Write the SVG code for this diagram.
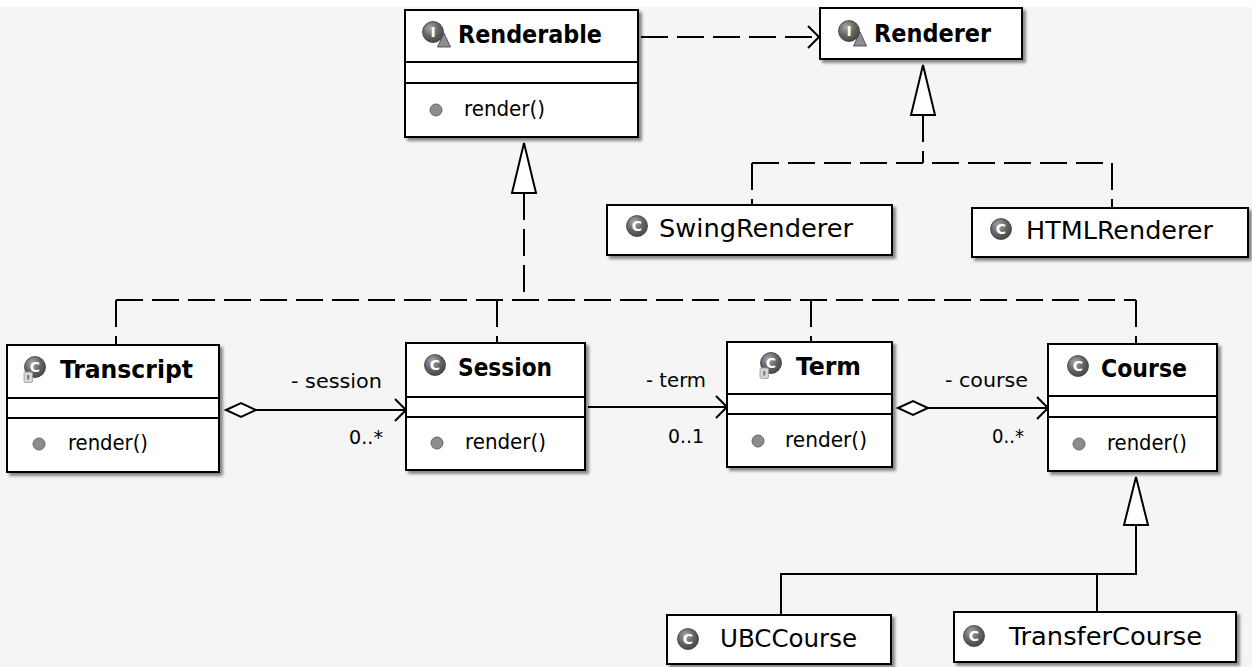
<svg xmlns="http://www.w3.org/2000/svg" width="1252" height="667" viewBox="0 0 1252 667">
<style>
.box{fill:#fff;stroke:#000;stroke-width:2;filter:url(#sh)}
.div{stroke:#000;stroke-width:1.8}
.t{font-family:"DejaVu Sans Condensed","DejaVu Sans",sans-serif;font-stretch:condensed;font-weight:bold;font-size:24px;fill:#000}
.n{font-family:"DejaVu Sans Condensed","DejaVu Sans",sans-serif;font-stretch:condensed;font-size:24px;fill:#000}
.m{font-family:"DejaVu Sans Condensed","DejaVu Sans",sans-serif;font-stretch:condensed;font-size:21px;fill:#000}
.l{font-family:"DejaVu Sans","Liberation Sans",sans-serif;font-size:20px;fill:#000}
.ic{font-family:"DejaVu Sans",sans-serif;font-weight:bold;font-size:14px;fill:#fff;text-anchor:middle}
.bul{fill:#8c8c8c;stroke:#666;stroke-width:1}
.dash{fill:none;stroke:#000;stroke-width:2;stroke-dasharray:27 9}
.sol{fill:none;stroke:#000;stroke-width:2}
.tri{fill:#fff;stroke:#000;stroke-width:2;stroke-linejoin:miter}
.dia{fill:#fff;stroke:#000;stroke-width:2}
</style>
<defs>
<filter id="sh" x="-5%" y="-5%" width="115%" height="125%">
<feDropShadow dx="3" dy="3" stdDeviation="1.5" flood-color="#000" flood-opacity="0.45"/>
</filter>
<radialGradient id="gC" cx="38%" cy="32%" r="70%">
<stop offset="0" stop-color="#a8a8a8"/>
<stop offset="0.55" stop-color="#666"/>
<stop offset="1" stop-color="#474747"/>
</radialGradient>
<g id="icC"><circle r="10.5" fill="url(#gC)" stroke="#3c3c3c" stroke-width="0.8"/><text class="ic" y="5">C</text></g>
<g id="icI"><circle r="10.5" fill="url(#gC)" stroke="#3c3c3c" stroke-width="0.8"/><text class="ic" y="5">I</text><polygon points="11,1 4.5,15 17.5,15" fill="#8e8e8e" stroke="#3c3c3c" stroke-width="0.8"/></g>
<g id="bd"><rect x="-11" y="5" width="8.5" height="10.5" rx="1.5" fill="#d6d6d6" stroke="#9a9a9a" stroke-width="0.8"/><rect x="-7.8" y="8" width="2" height="4.5" fill="#777"/></g>
</defs>
<rect width="1252" height="667" fill="#fff"/>
<rect y="7" width="1252" height="660" fill="#f5f5f5"/>

<g id="connectors">
<path class="dash" d="M641,37 H818"/>
<polyline class="sol" points="808,26 819,37 808,48"/>
<polygon class="tri" points="923,65 911,115 935,115"/>
<path class="dash" d="M923,115 V163"/>
<path class="dash" d="M752,163 H1112"/>
<path class="dash" d="M752,163 V205"/>
<path class="dash" d="M1112,163 V208"/>
<polygon class="tri" points="524,143 512,193 536,193"/>
<path class="dash" d="M524,193 V300"/>
<path class="dash" d="M116,300 H1136"/>
<path class="dash" d="M116,300 V345"/>
<path class="dash" d="M497,300 V343"/>
<path class="dash" d="M811,300 V342"/>
<path class="dash" d="M1136,300 V344"/>
<polygon class="dia" points="226,410 241,403 256,410 241,417"/>
<path class="sol" d="M256,410 H406"/>
<polyline class="sol" points="395,399 406,410 395,421"/>
<path class="sol" d="M588,407 H727"/>
<polyline class="sol" points="716,396 727,407 716,418"/>
<polygon class="dia" points="898,408 913,401 928,408 913,415"/>
<path class="sol" d="M928,408 H1048"/>
<polyline class="sol" points="1037,397 1048,408 1037,419"/>
<polygon class="tri" points="1136,477 1124,525 1148,525"/>
<path class="sol" d="M1136,525 V574 H781 V615"/>
<path class="sol" d="M1097,574 V612"/>
<text class="l" x="291" y="388" textLength="91" lengthAdjust="spacingAndGlyphs">- session</text>
<text class="l" x="349" y="444" textLength="34" lengthAdjust="spacingAndGlyphs">0..*</text>
<text class="l" x="646" y="387" textLength="60" lengthAdjust="spacingAndGlyphs">- term</text>
<text class="l" x="668" y="443" textLength="36" lengthAdjust="spacingAndGlyphs">0..1</text>
<text class="l" x="945" y="387" textLength="83" lengthAdjust="spacingAndGlyphs">- course</text>
<text class="l" x="992" y="443" textLength="32" lengthAdjust="spacingAndGlyphs">0..*</text>
</g>

<g id="Renderable">
<rect class="box" x="405" y="10" width="233" height="127"/>
<line class="div" x1="405" y1="62" x2="638" y2="62"/>
<line class="div" x1="405" y1="83" x2="638" y2="83"/>
<use href="#icI" x="433" y="32"/>
<text class="t" x="458" y="43" textLength="144" lengthAdjust="spacingAndGlyphs">Renderable</text>
<circle class="bul" cx="436" cy="110" r="6"/>
<text class="m" x="464" y="116" textLength="81" lengthAdjust="spacingAndGlyphs">render()</text>
</g>

<g id="Renderer">
<rect class="box" x="820" y="8" width="202" height="51"/>
<use href="#icI" x="849" y="31"/>
<text class="t" x="874" y="42" textLength="117" lengthAdjust="spacingAndGlyphs">Renderer</text>
</g>

<g id="SwingRenderer">
<rect class="box" x="607" y="205" width="285" height="50"/>
<use href="#icC" x="637" y="226"/>
<text class="n" x="659" y="237" textLength="194" lengthAdjust="spacingAndGlyphs">SwingRenderer</text>
</g>

<g id="HTMLRenderer">
<rect class="box" x="972" y="208" width="276" height="49"/>
<use href="#icC" x="1001" y="229"/>
<text class="n" x="1026" y="239" textLength="187" lengthAdjust="spacingAndGlyphs">HTMLRenderer</text>
</g>

<g id="Transcript">
<rect class="box" x="7" y="345" width="212" height="127"/>
<line class="div" x1="7" y1="398" x2="219" y2="398"/>
<line class="div" x1="7" y1="418" x2="219" y2="418"/>
<use href="#icC" x="35" y="367"/>
<use href="#bd" x="35" y="367"/>
<text class="t" x="60" y="378" textLength="133" lengthAdjust="spacingAndGlyphs">Transcript</text>
<circle class="bul" cx="39" cy="444" r="6"/>
<text class="m" x="68" y="450" textLength="80" lengthAdjust="spacingAndGlyphs">render()</text>
</g>

<g id="Session">
<rect class="box" x="406" y="343" width="179" height="127"/>
<line class="div" x1="406" y1="397" x2="585" y2="397"/>
<line class="div" x1="406" y1="417" x2="585" y2="417"/>
<use href="#icC" x="435" y="365"/>
<text class="t" x="458" y="376" textLength="94" lengthAdjust="spacingAndGlyphs">Session</text>
<circle class="bul" cx="437" cy="443" r="6"/>
<text class="m" x="465" y="449" textLength="81" lengthAdjust="spacingAndGlyphs">render()</text>
</g>

<g id="Term">
<rect class="box" x="727" y="342" width="165" height="125"/>
<line class="div" x1="727" y1="394" x2="892" y2="394"/>
<line class="div" x1="727" y1="414" x2="892" y2="414"/>
<use href="#icC" x="771" y="363"/>
<use href="#bd" x="771" y="363"/>
<text class="t" x="796" y="375" textLength="65" lengthAdjust="spacingAndGlyphs">Term</text>
<circle class="bul" cx="758" cy="441" r="6"/>
<text class="m" x="785" y="447" textLength="82" lengthAdjust="spacingAndGlyphs">render()</text>
</g>

<g id="Course">
<rect class="box" x="1048" y="344" width="169" height="127"/>
<line class="div" x1="1048" y1="396" x2="1217" y2="396"/>
<line class="div" x1="1048" y1="417" x2="1217" y2="417"/>
<use href="#icC" x="1078" y="366"/>
<text class="t" x="1101" y="377" textLength="86" lengthAdjust="spacingAndGlyphs">Course</text>
<circle class="bul" cx="1079" cy="444" r="6"/>
<text class="m" x="1107" y="450" textLength="80" lengthAdjust="spacingAndGlyphs">render()</text>
</g>

<g id="UBCCourse">
<rect class="box" x="667" y="615" width="224" height="49"/>
<use href="#icC" x="688" y="639"/>
<text class="n" x="720" y="647" textLength="137" lengthAdjust="spacingAndGlyphs">UBCCourse</text>
</g>

<g id="TransferCourse">
<rect class="box" x="954" y="612" width="282" height="50"/>
<use href="#icC" x="974" y="636"/>
<text class="n" x="1009" y="645" textLength="193" lengthAdjust="spacingAndGlyphs">TransferCourse</text>
</g>
</svg>
